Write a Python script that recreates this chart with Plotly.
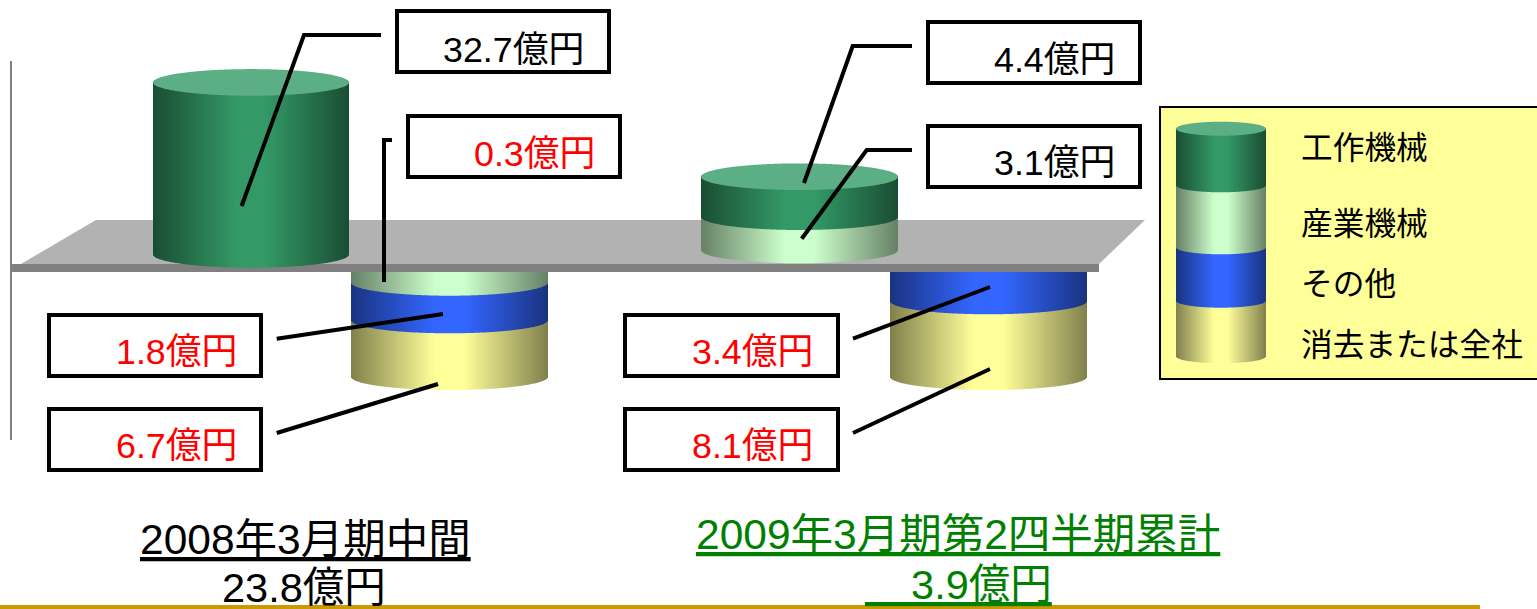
import numpy as np
import plotly.graph_objects as go

# ---- data ----
categories = ["2008年3月期中間", "2009年3月期第2四半期累計"]
totals = ["23.8億円", "3.9億円"]
series_names = ["工作機械", "産業機械", "その他", "消去または全社"]
values_2008 = [32.7, -0.3, -1.8, -6.7]
values_2009 = [4.4, 3.1, -3.4, -8.1]
# heights as drawn in the picture (the drawing is not to scale), in axis units
drawn_2008 = [172.0, 10.4, 37.6, 56.7]
drawn_2009 = [40.0, 33.3, 29.0, 75.7]
drawn_key = [56.6, 62.0, 53.4, 55.6]

# ---- styles ----
CENTER = [(51, 153, 102), (204, 255, 204), (51, 102, 255), (255, 255, 153)]
EDGE = [(26, 77, 51), (102, 128, 102), (26, 51, 128), (128, 128, 77)]
TOP = "#5CAF85"
FONT = "Liberation Sans, Noto Sans CJK JP"
ZERO = 268.0


def yy(py):
    return ZERO - py


def strip_colors(us, s):
    out = []
    for u in us:
        f = min(1.0, (1 - abs(u)) / 0.85)
        c = [round(EDGE[s][k] + (CENTER[s][k] - EDGE[s][k]) * f) for k in range(3)]
        out.append(f"rgb({c[0]},{c[1]},{c[2]})")
    return out


def segment(x0, x1, top, height, ry, s):
    xs = np.arange(x0, x1) + 0.5
    us = (xs - (x0 + x1) / 2) / ((x1 - x0) / 2)
    e = ry * np.sqrt(1 - us ** 2)
    return go.Bar(x=xs, base=top - height - e, y=height + e, width=1,
                  marker=dict(color=strip_colors(us, s), line_width=0),
                  name=series_names[s], hoverinfo="skip", showlegend=False)


def lid(x0, x1, cy, ry):
    xs = np.arange(x0, x1) + 0.5
    us = (xs - (x0 + x1) / 2) / ((x1 - x0) / 2)
    e = ry * np.sqrt(1 - us ** 2)
    return go.Bar(x=xs, base=cy - e, y=2 * e, width=1,
                  marker=dict(color=TOP, line_width=0), hoverinfo="skip", showlegend=False)


traces = []


def stack(x0, x1, top, heights, indices, ry, with_lid):
    # painted bottom-up so each upper segment's curved rim overlaps the next
    tops = top - np.concatenate(([0.0], np.cumsum(heights)[:-1]))
    for t, h, s in reversed(list(zip(tops, heights, indices))):
        traces.append(segment(x0, x1, t, h, ry, s))
    if with_lid:
        traces.append(lid(x0, x1, top, ry))


RY = 13.3
# 2008 above and below the plate
stack(153, 349, yy(82.4), drawn_2008[:1], [0], RY, True)
stack(351, 548, yy(272), drawn_2008[1:], [1, 2, 3], RY, False)
# 2009 above and below the plate
stack(701, 898, yy(176.7), drawn_2009[:2], [0, 1], RY, True)
stack(890, 1087, yy(272), drawn_2009[2:], [2, 3], RY, False)
# key
stack(1176, 1266, yy(128.7), drawn_key, [0, 1, 2, 3], 7.0, True)

fig = go.Figure(traces)

shapes = []


def poly(points, fill=None, line=None, width=0, layer="above", close=False):
    d = "M" + " L".join(f"{x},{yy(y)}" for x, y in points) + (" Z" if close else "")
    shapes.append(dict(type="path", path=d, xref="x", yref="y", layer=layer,
                       fillcolor=fill or "rgba(0,0,0,0)",
                       line=dict(color=line or "rgba(0,0,0,0)", width=width)))


def rect(x0, y0, x1, y1, fill, line=None, width=0, layer="above"):
    shapes.append(dict(type="rect", x0=x0, x1=x1, y0=yy(y0), y1=yy(y1), xref="x", yref="y",
                       layer=layer, fillcolor=fill,
                       line=dict(color=line or "rgba(0,0,0,0)", width=width)))


# plate, axis stub, rule
poly([(21, 264), (96, 220), (1145, 220), (1099, 264)], fill="#B2B2B2", layer="below", close=True)
rect(11, 264, 1099, 272, "#808080", layer="below")
poly([(11, 61), (11, 440)], line="#808080", width=2, layer="below")
rect(0, 605, 1480, 609, "#CC9900", layer="below")
# key panel
rect(1160, 107, 1545, 379, "#FFFF99", line="#000000", width=2, layer="below")

# leaders
LEADERS = [
    [(381, 35), (304, 35), (241.6, 206)],
    [(392, 140), (384, 140), (384, 282)],
    [(912, 46), (852.7, 46), (804, 183)],
    [(912, 150), (866.7, 150), (801.7, 238.7)],
    [(276.7, 338.7), (443, 314)],
    [(276.7, 433), (438, 384)],
    [(853, 338.7), (990, 287)],
    [(853, 433), (990, 369)],
]
for pts in LEADERS:
    poly(pts, line="#000000", width=4)

annotations = []


def text(x, py, s, size, color="#000000", anchor="center"):
    annotations.append(dict(x=x, y=yy(py), xref="x", yref="y", text=s, showarrow=False,
                            xanchor=anchor, yanchor="middle", align=anchor,
                            font=dict(family=FONT, size=size, color=color)))


# value boxes: (value, x0, y0, x1, y1, text right edge, text centre)
BOXES = [
    (values_2008[0], 397, 11, 609, 72, 586, 50),
    (values_2008[1], 408, 116, 620, 177, 597, 154),
    (values_2008[2], 49, 315, 261, 376, 239, 352),
    (values_2008[3], 49, 409, 261, 470, 239, 446),
    (values_2009[0], 928, 22, 1140, 83, 1117, 60),
    (values_2009[1], 928, 126, 1140, 187, 1117, 163),
    (values_2009[2], 625, 315, 838, 376, 815, 352),
    (values_2009[3], 625, 409, 838, 470, 815, 446),
]
for v, x0, y0, x1, y1, tx, ty in BOXES:
    rect(x0, y0, x1, y1, "#FFFFFF", line="#000000", width=4)
    col = "#FF0000" if v < 0 else "#000000"
    text(tx, ty, f"{abs(v):.1f}億円", 35.8, col, "right")

# key texts
for name, py in zip(series_names, [148, 224, 284, 345]):
    text(1299, py, name, 31.7, anchor="left")

# category captions
text(305.5, 539, f"<u>{categories[0]}</u>", 42.5)
text(304, 587, totals[0], 41.5)
text(958, 534, f"<u>{categories[1]}</u>", 42.5, "#008000")
text(958, 584, f"<u>&nbsp;&nbsp;&nbsp;&nbsp;{totals[1]}</u>", 41.5, "#008000")

fig.update_layout(
    width=1537, height=609, margin=dict(l=0, r=0, t=0, b=0),
    paper_bgcolor="#FFFFFF", plot_bgcolor="#FFFFFF",
    barmode="overlay", showlegend=False,
    xaxis=dict(range=[0, 1537], visible=False, fixedrange=True),
    yaxis=dict(range=[yy(609), yy(0)], visible=False, fixedrange=True),
    shapes=shapes, annotations=annotations,
)
fig.write_html("out.html", config={"displayModeBar": False},
               post_script="document.body.style.margin='0';document.body.style.overflow='hidden';")
